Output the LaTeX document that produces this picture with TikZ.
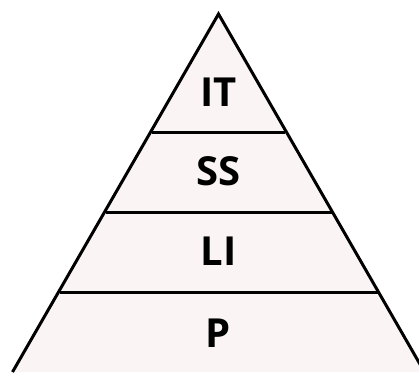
\documentclass[tikz,border=0pt]{standalone}
\usepackage{fontspec}
\setmainfont{Open Sans}
\definecolor{pyrfill}{RGB}{250,244,244}
\begin{document}
\begin{tikzpicture}[x=1pt,y=-1pt,
  edge/.style={line width=3pt,black},
  lbl/.style={anchor=base,font=\fontsize{40}{41}\selectfont\bfseries,inner sep=0pt}]
\useasboundingbox (0,0) rectangle (419,372);
\clip (0,0) rectangle (419,372);
\coordinate (apex) at (218.5,14);
\coordinate (bl) at (12.5,372);
\coordinate (br) at (424.5,372);
\fill[pyrfill] (apex) -- (bl) -- (br) -- cycle;
\draw[edge] (bl) -- (apex) -- (br);
\coordinate (l1) at (152,132); \coordinate (r1) at (285,132);
\coordinate (l2) at (105.5,212); \coordinate (r2) at (331.5,212);
\coordinate (l3) at (59.5,292); \coordinate (r3) at (377.5,292);
\draw[edge] (l1) -- (r1);
\draw[edge] (l2) -- (r2);
\draw[edge] (l3) -- (r3);
\node[lbl] (it) at (218.5,106) {IT};
\node[lbl] (ss) at (218.5,185) {SS};
\node[lbl] (li) at (218.5,265) {LI};
\node[lbl] (p) at (218.5,347) {P};
\end{tikzpicture}
\end{document}
